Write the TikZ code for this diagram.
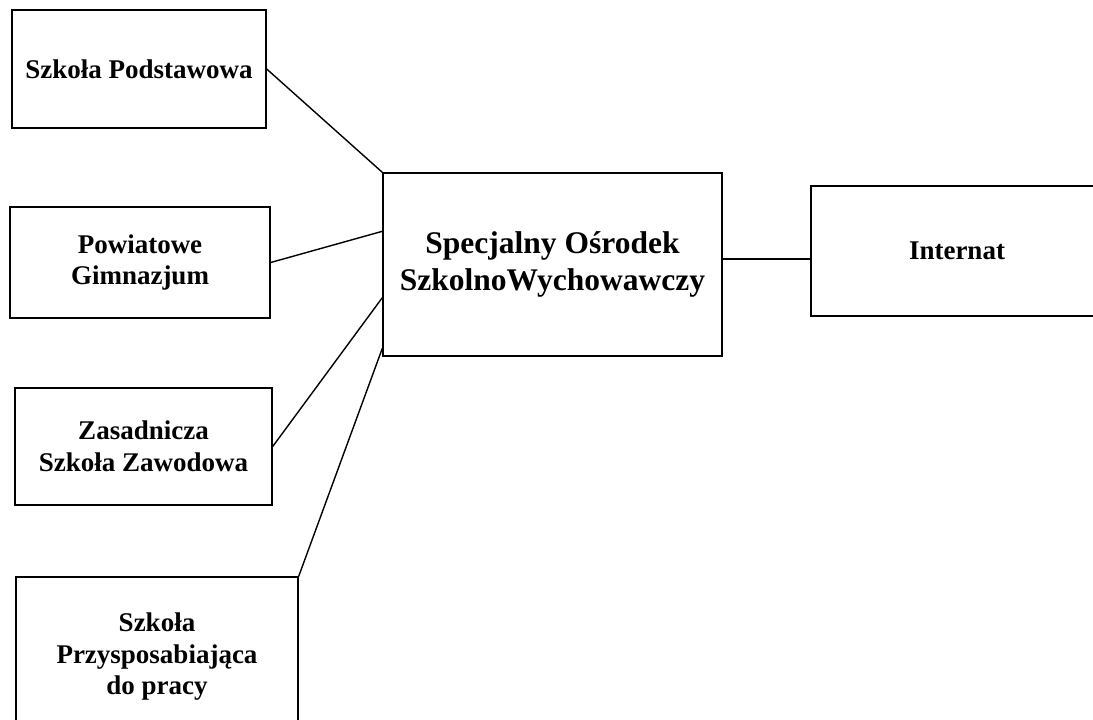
\documentclass[tikz,border=0pt]{standalone}
\usepackage{fontspec}
\setmainfont{Liberation Serif}
\usetikzlibrary{calc}

\begin{document}
\begin{tikzpicture}[x=1pt,y=-1pt,line width=1.4pt,
  box/.style={draw,rectangle,align=center,inner sep=0pt,
    font=\bfseries\fontsize{27}{31.5}\selectfont},
  bigbox/.style={box,font=\bfseries\fontsize{31.5}{37}\selectfont}]
\useasboundingbox (0,0) rectangle (1093,720);
\clip (0,0) rectangle (1093,720);
\fill[white] (0,0) rectangle (1093,720);

\node[box,minimum width=254pt,minimum height=118pt] (sp) at (139,69) {Szkoła Podstawowa};
\node[box,minimum width=260pt,minimum height=111pt] (gim) at (140,262.5) {Powiatowe\\Gimnazjum};
\node[box,minimum width=257pt,minimum height=117pt] (zsz) at (143.5,446.5) {Zasadnicza\\Szkoła Zawodowa};
\node[box,minimum width=282pt,minimum height=160pt] (spdp) at (157,657) {Szkoła\\Przysposabiająca\\do pracy};
\node[bigbox,minimum width=339pt,minimum height=183pt] (sosw) at (552.5,264.5) {Specjalny Ośrodek\\SzkolnoWychowawczy};
\node[box,minimum width=292pt,minimum height=130pt] (internat) at (957,251) {Internat};

% punkty na bokach srodkowego prostokata
\coordinate (inB) at ($(sosw.north west)!0.32!(sosw.south west)$);
\coordinate (inC) at ($(sosw.north west)!0.68!(sosw.south west)$);
\coordinate (inD) at ($(sosw.north west)!0.955!(sosw.south west)$);
\coordinate (outI) at ($(sosw.north east)!0.47!(sosw.south east)$);

\draw (sp.east) -- (sosw.north west);
\draw (gim.east) -- (inB);
\draw (zsz.east) -- (inC);
\draw (spdp.north east) -- (inD);
\draw (outI) -- (outI -| internat.west);
\end{tikzpicture}
\end{document}
